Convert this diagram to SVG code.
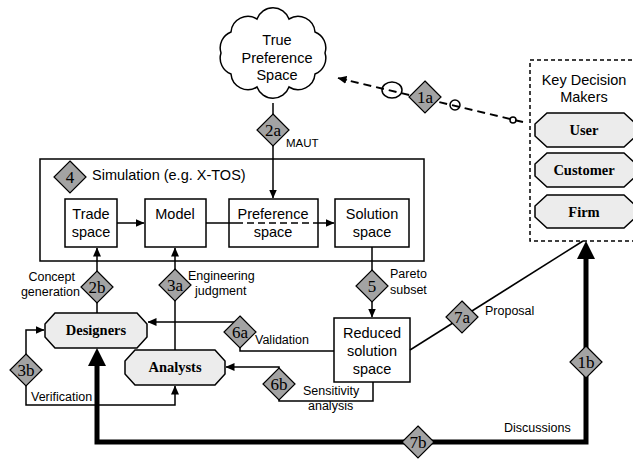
<svg xmlns="http://www.w3.org/2000/svg" width="633" height="459" viewBox="0 0 633 459">
  <style>
    .box { fill: #fff; stroke: #000; stroke-width: 1.5; }
    .oct { fill: #ececec; stroke: #000; stroke-width: 1.5; }
    .ln { fill: none; stroke: #000; stroke-width: 1.5; }
    .thick { fill: none; stroke: #000; stroke-width: 5; }
    .dash { fill: none; stroke: #000; stroke-width: 2; stroke-dasharray: 8 5; }
    .dia { fill: #a3a3a3; stroke: #000; stroke-width: 1.2; }
    .t { font-family: "Liberation Sans", Arial, sans-serif; font-size: 14.5px; fill: #000; }
    .c { text-anchor: middle; }
    .lbl { font-family: "Liberation Sans", Arial, sans-serif; font-size: 12.5px; fill: #000; }
    .bold { font-family: "Liberation Serif", "Times New Roman", serif; font-weight: bold; font-size: 14.5px; text-anchor: middle; fill: #000; }
    .dt { font-family: "Liberation Serif", "Times New Roman", serif; font-size: 17px; text-anchor: middle; fill: #000; }
  </style>
  <defs>
    <marker id="ah" markerWidth="9" markerHeight="8" refX="8.5" refY="4" orient="auto-start-reverse" markerUnits="userSpaceOnUse">
      <path d="M0,0 L9,4 L0,8 Z" fill="#000"/>
    </marker>
    <path id="dm" d="M0,-16 L16,0 L0,16 L-16,0 Z"/>
  </defs>

  <rect width="633" height="459" fill="#fff"/>

  <!-- cloud -->
  <g id="cloud">
    <path class="ln" fill="#fff" d="M325,53 A17,17 0 0 1 315,74 A17,17 0 0 1 289,87 A17,17 0 0 1 257,87 A17,17 0 0 1 231,74 A17,17 0 0 1 221,53 A17,17 0 0 1 231,32 A17,17 0 0 1 257,19 A17,17 0 0 1 289,19 A17,17 0 0 1 315,32 A17,17 0 0 1 325,53 Z"/>
    <text class="t c" x="277" y="45">True</text>
    <text class="t c" x="277" y="63">Preference</text>
    <text class="t c" x="277" y="80">Space</text>
  </g>

  <!-- key decision makers -->
  <g id="kdm">
    <rect x="530" y="60" width="120" height="181" fill="none" stroke="#000" stroke-width="1.5" stroke-dasharray="4 3"/>
    <text class="t c" x="584" y="85">Key Decision</text>
    <text class="t c" x="584" y="102">Makers</text>
  </g>
  <g id="user">
    <path class="oct" d="M547,113 L624,113 L636,124 L636,136 L624,147 L547,147 L535,136 L535,124 Z"/>
    <text class="bold" x="584" y="135">User</text>
  </g>
  <g id="customer">
    <path class="oct" d="M547,153 L624,153 L636,164 L636,176 L624,187 L547,187 L535,176 L535,164 Z"/>
    <text class="bold" x="584" y="175">Customer</text>
  </g>
  <g id="firm">
    <path class="oct" d="M547,195 L624,195 L636,206 L636,217 L624,228 L547,228 L535,217 L535,206 Z"/>
    <text class="bold" x="584" y="217">Firm</text>
  </g>

  <!-- simulation frame -->
  <g id="simulation">
    <rect class="box" x="40" y="159" width="384" height="102" fill="none"/>
    <text class="t" x="92" y="180">Simulation (e.g. X-TOS)</text>
  </g>
  <g id="trade">
    <rect class="box" x="65" y="199" width="52" height="48"/>
    <text class="t c" x="91" y="219">Trade</text>
    <text class="t c" x="91" y="237">space</text>
  </g>
  <g id="model">
    <rect class="box" x="145" y="199" width="61" height="48"/>
    <text class="t c" x="175" y="219">Model</text>
  </g>
  <g id="preference">
    <rect class="box" x="229" y="199" width="89" height="48"/>
    <text class="t c" x="273" y="219">Preference</text>
    <text class="t c" x="273" y="237">space</text>
  </g>
  <g id="solution">
    <rect class="box" x="335" y="199" width="74" height="48"/>
    <text class="t c" x="372" y="219">Solution</text>
    <text class="t c" x="372" y="237">space</text>
  </g>
  <g id="reduced">
    <rect class="box" x="334" y="318" width="76" height="64"/>
    <text class="t c" x="372" y="338">Reduced</text>
    <text class="t c" x="372" y="356">solution</text>
    <text class="t c" x="372" y="374">space</text>
  </g>
  <g id="designers">
    <path class="oct" d="M55,313 L137,313 L147,324 L147,337 L137,348 L55,348 L45,337 L45,324 Z"/>
    <text class="bold" x="96" y="335">Designers</text>
  </g>
  <g id="analysts">
    <path class="oct" d="M135,350 L215,350 L225,361 L225,374 L215,385 L135,385 L125,374 L125,361 Z"/>
    <text class="bold" x="175" y="372">Analysts</text>
  </g>

  <!-- connectors -->
  <g id="connectors">
    <path class="dash" d="M523,122 L346,80"/>
    <path d="M347,80 L338,78" class="ln" marker-end="url(#ah)"/>
    <ellipse cx="392" cy="90" rx="10" ry="8" class="ln"/>
    <circle cx="455" cy="105" r="5" class="ln"/>
    <circle cx="513" cy="120" r="3" class="ln"/>

    <path class="ln" d="M273,103 L273,198" marker-end="url(#ah)"/>
    <path class="ln" d="M117,223 L144,223" marker-end="url(#ah)"/>
    <path class="ln" d="M206,223 L236,223"/>
    <path class="ln" d="M236,223 L318,223" stroke-dasharray="7 4"/>
    <path class="ln" d="M318,223 L334,223" marker-end="url(#ah)"/>
    <path class="ln" d="M97,313 L97,248" marker-end="url(#ah)"/>
    <path class="ln" d="M175,350 L175,248" marker-end="url(#ah)"/>
    <path class="ln" d="M372,247 L372,317" marker-end="url(#ah)"/>
    <path class="ln" d="M334,351 L240,351 L240,322 L148,322" marker-end="url(#ah)"/>
    <path class="ln" d="M373,382 L373,401 L279,401 L279,367 L226,367" marker-end="url(#ah)"/>
    <path class="ln" d="M44,330 L26,330 L26,405 L175,405 L175,386" marker-start="url(#ah)" marker-end="url(#ah)"/>
    <path class="ln" d="M410,350 L583,241"/>

    <path class="thick" d="M97,364 L97,442 L586,442 L586,257"/>
    <path d="M586,241 L595,259 L577,259 Z" fill="#000"/>
    <path d="M97,348 L106,366 L88,366 Z" fill="#000"/>

    <!-- step markers -->
    <use href="#dm" class="dia" x="425" y="97"/>
    <text class="dt" x="425" y="103">1a</text>
    <use href="#dm" class="dia" x="273" y="130"/>
    <text class="dt" x="273" y="136">2a</text>
    <use href="#dm" class="dia" x="70" y="177"/>
    <text class="dt" x="70" y="183">4</text>
    <use href="#dm" class="dia" x="97" y="287"/>
    <text class="dt" x="97" y="293">2b</text>
    <use href="#dm" class="dia" x="175" y="285"/>
    <text class="dt" x="175" y="291">3a</text>
    <use href="#dm" class="dia" x="372" y="286"/>
    <text class="dt" x="372" y="292">5</text>
    <use href="#dm" class="dia" x="240" y="332"/>
    <text class="dt" x="240" y="338">6a</text>
    <use href="#dm" class="dia" x="279" y="384"/>
    <text class="dt" x="279" y="390">6b</text>
    <use href="#dm" class="dia" x="26" y="370"/>
    <text class="dt" x="26" y="376">3b</text>
    <use href="#dm" class="dia" x="462" y="317"/>
    <text class="dt" x="462" y="323">7a</text>
    <use href="#dm" class="dia" x="586" y="362"/>
    <text class="dt" x="586" y="368">1b</text>
    <use href="#dm" class="dia" x="418" y="442"/>
    <text class="dt" x="418" y="448">7b</text>

    <!-- labels -->
    <text class="lbl" x="286" y="147" style="font-size:11.5px">MAUT</text>
    <text class="lbl" x="75" y="281" text-anchor="end">Concept</text>
    <text class="lbl" x="80" y="296" text-anchor="end">generation</text>
    <text class="lbl" x="188" y="280">Engineering</text>
    <text class="lbl" x="195" y="295">judgment</text>
    <text class="lbl" x="255" y="344">Validation</text>
    <text class="lbl" x="303" y="395">Sensitivity</text>
    <text class="lbl" x="308" y="410">analysis</text>
    <text class="lbl" x="31" y="401">Verification</text>
    <text class="lbl" x="390" y="278">Pareto</text>
    <text class="lbl" x="390" y="294">subset</text>
    <text class="lbl" x="485" y="315">Proposal</text>
    <text class="lbl" x="504" y="432">Discussions</text>
  </g>
</svg>
